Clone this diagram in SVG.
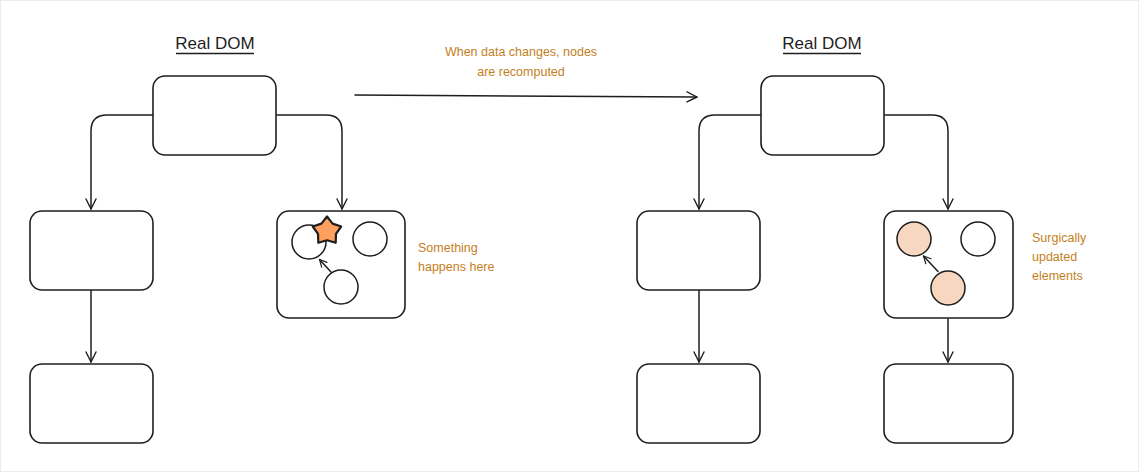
<svg xmlns="http://www.w3.org/2000/svg" width="1139" height="472" viewBox="0 0 1139 472">
<defs>
<marker id="arr" viewBox="0 0 12 12" refX="11" refY="6" markerWidth="12" markerHeight="12" markerUnits="userSpaceOnUse" orient="auto">
<path d="M1 1 L11 6 L1 11" fill="none" stroke="#1e1e1e" stroke-width="1.4" stroke-linecap="round" stroke-linejoin="round"/>
</marker>
<marker id="arrs" viewBox="0 0 10 10" refX="9" refY="5" markerWidth="9" markerHeight="9" markerUnits="userSpaceOnUse" orient="auto">
<path d="M1 1 L9 5 L1 9" fill="none" stroke="#1e1e1e" stroke-width="1.3" stroke-linecap="round" stroke-linejoin="round"/>
</marker>
</defs>
<style>
.box{fill:#fff;stroke:#1e1e1e;stroke-width:1.6}
.c{fill:#fff;stroke:#1e1e1e;stroke-width:1.5}
.cp{fill:#f8d7c0;stroke:#1e1e1e;stroke-width:1.5}
.edge{fill:none;stroke:#1e1e1e;stroke-width:1.5;stroke-linecap:round}
.title{font-family:"Liberation Sans",Arial,sans-serif;font-size:17px;fill:#1e1e1e}
.note{font-family:"Liberation Sans",Arial,sans-serif;font-size:12.5px;fill:#c4801e}
</style>
<rect x="0.5" y="0.5" width="1138" height="471" fill="#fff" stroke="#ececec" stroke-width="1"/>

<g id="connectors">
<path class="edge" d="M153 115 H107 Q91 115 91 131 V209" marker-end="url(#arr)"/>
<path class="edge" d="M277 115 H326 Q342 115 342 131 V209" marker-end="url(#arr)"/>
<path class="edge" d="M91 290 V362" marker-end="url(#arr)"/>
<path class="edge" d="M355 95 L697 97" marker-end="url(#arr)"/>
<path class="edge" d="M761 115 H715 Q699 115 699 131 V209" marker-end="url(#arr)"/>
<path class="edge" d="M885 115 H932 Q948 115 948 131 V209" marker-end="url(#arr)"/>
<path class="edge" d="M699 290 V362" marker-end="url(#arr)"/>
<path class="edge" d="M948 319 V362" marker-end="url(#arr)"/>
</g>

<g id="title-left">
<text class="title" x="215" y="49" text-anchor="middle">Real DOM</text>
<line x1="176" y1="53.5" x2="254" y2="53.5" stroke="#1e1e1e" stroke-width="1.3"/>
</g>
<g id="title-right">
<text class="title" x="822" y="49" text-anchor="middle">Real DOM</text>
<line x1="783" y1="53.5" x2="861" y2="53.5" stroke="#1e1e1e" stroke-width="1.3"/>
</g>
<g id="label-change">
<text class="note" x="521" y="56" text-anchor="middle">When data changes, nodes</text>
<text class="note" x="521" y="76" text-anchor="middle">are recomputed</text>
</g>

<g id="l-root"><rect class="box" x="153" y="76" width="123" height="79" rx="12"/></g>
<g id="l-child1"><rect class="box" x="30" y="211" width="123" height="79" rx="12"/></g>
<g id="l-grandchild"><rect class="box" x="30" y="364" width="123" height="79" rx="12"/></g>
<g id="l-child2">
<rect class="box" x="277" y="211" width="128" height="107" rx="12"/>
<circle class="c" cx="309" cy="242" r="17"/>
<circle class="c" cx="370" cy="239" r="17"/>
<circle class="c" cx="341" cy="287" r="17"/>
<path class="edge" d="M331 272 L319.5 259.5" marker-end="url(#arrs)"/>
<path d="M327 216.5 L332.6 223.6 L341.2 226.5 L336 233.9 L335.7 242.8 L327 240.3 L318.3 242.8 L318 233.9 L312.8 226.5 L321.4 223.6 Z" fill="#ffa05e" stroke="#1e1e1e" stroke-width="2.2" stroke-linejoin="round"/>
</g>
<g id="l-note">
<text class="note" x="418" y="251.5">Something</text>
<text class="note" x="418" y="270.5">happens here</text>
</g>

<g id="r-root"><rect class="box" x="761" y="76" width="123" height="79" rx="12"/></g>
<g id="r-child1"><rect class="box" x="637" y="211" width="123" height="79" rx="12"/></g>
<g id="r-grandchild1"><rect class="box" x="637" y="364" width="123" height="79" rx="12"/></g>
<g id="r-child2">
<rect class="box" x="884" y="211" width="129" height="107" rx="12"/>
<circle class="cp" cx="914" cy="239" r="17"/>
<circle class="c" cx="978" cy="239" r="17"/>
<circle class="cp" cx="948" cy="288" r="17"/>
<path class="edge" d="M938 271.5 L923.5 256" marker-end="url(#arrs)"/>
</g>
<g id="r-grandchild2"><rect class="box" x="884" y="364" width="129" height="79" rx="12"/></g>
<g id="r-note">
<text class="note" x="1032" y="242">Surgically</text>
<text class="note" x="1032" y="261">updated</text>
<text class="note" x="1032" y="280">elements</text>
</g>
</svg>
